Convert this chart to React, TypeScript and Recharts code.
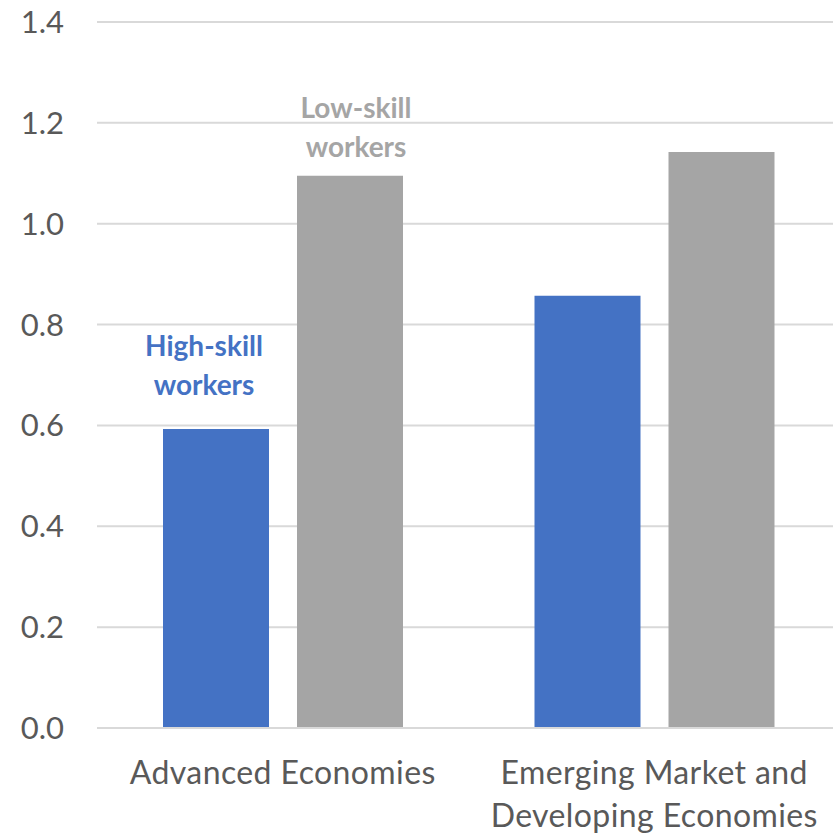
import React from "react";
import { BarChart, Bar, XAxis, YAxis, CartesianGrid, LabelList } from "recharts";

const categories = ["Advanced Economies", "Emerging Market and Developing Economies"];
const categoryLines = [["Advanced Economies"], ["Emerging Market and", "Developing Economies"]];
const highSkill = [0.593, 0.857];
const lowSkill = [1.095, 1.142];
const yTicks = [0, 0.2, 0.4, 0.6, 0.8, 1.0, 1.2, 1.4];

const BLUE = "#4472C4";
const GRAY = "#A5A5A5";
const FONT = "Lato, 'Open Sans', sans-serif";

const data = categories.map((c, i) => ({
  category: c,
  high: highSkill[i],
  low: lowSkill[i],
}));

const XTick = (props: any) => {
  const { x, y, payload } = props;
  const lines = categoryLines[payload.index] || [payload.value];
  return (
    <g>
      {lines.map((l, k) => (
        <text
          key={k}
          x={x}
          y={y + 48 + k * 43}
          textAnchor="middle"
          fill="#595959"
          fontSize={32}
          letterSpacing={0.4}
          fontFamily={FONT}
        >
          {l}
        </text>
      ))}
    </g>
  );
};

// label over the first bar of a series, like a legend tag
const seriesLabel =
  (lines: string[], color: string, gap: number, dx: number) => (props: any) => {
    const { x, y, width, index } = props;
    if (index !== 0) return null;
    const cx = x + width / 2 + dx;
    return (
      <g>
        {lines.map((l, k) => (
          <text
            key={k}
            x={cx}
            y={y - gap - (lines.length - 1 - k) * 39}
            textAnchor="middle"
            fill={color}
            fontSize={28}
            fontWeight="bold"
            fontFamily={FONT}
          >
            {l}
          </text>
        ))}
      </g>
    );
  };

export default function App() {
  return (
    <div
      style={{
        position: "absolute",
        left: 0,
        top: 0,
        width: 833,
        height: 835,
        overflow: "hidden",
        background: "#fff",
      }}
    >
      <BarChart
        width={840}
        height={835}
        data={data}
        margin={{ top: 22, right: 0, left: 0, bottom: 0 }}
        barCategoryGap={66}
        barGap={28}
      >
        <CartesianGrid vertical={false} stroke="#D9D9D9" strokeWidth={2} />
        <XAxis
          dataKey="category"
          height={107}
          tickLine={false}
          axisLine={{ stroke: "#D9D9D9", strokeWidth: 2 }}
          tick={<XTick />}
          interval={0}
        />
        <YAxis
          width={97}
          domain={[0, 1.4]}
          ticks={yTicks}
          tickFormatter={(v: number) => v.toFixed(1)}
          axisLine={false}
          tickLine={false}
          tickSize={0}
          tickMargin={33}
          tick={{ fill: "#595959", fontSize: 31, fontFamily: FONT }}
        />
        <Bar dataKey="high" fill={BLUE} isAnimationActive={false}>
          <LabelList content={seriesLabel(["High-skill", "workers"], BLUE, 34, -12)} />
        </Bar>
        <Bar dataKey="low" fill={GRAY} isAnimationActive={false}>
          <LabelList content={seriesLabel(["Low-skill", "workers"], GRAY, 19, 6)} />
        </Bar>
      </BarChart>
    </div>
  );
}
